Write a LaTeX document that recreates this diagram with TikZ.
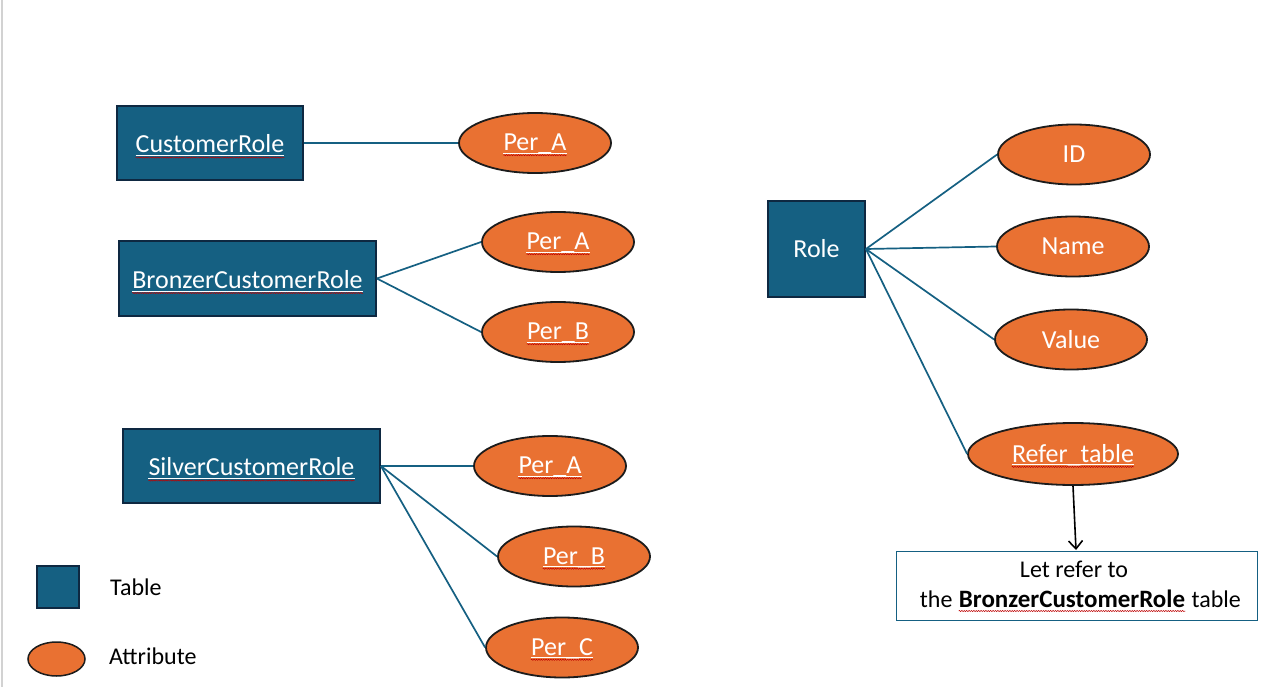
\documentclass[tikz,border=0pt]{standalone}
\usepackage{fontspec}
\setmainfont{Carlito}
\usetikzlibrary{shapes.geometric,arrows.meta,decorations.pathmorphing}
\definecolor{tblue}{HTML}{156082}
\definecolor{tborder}{HTML}{0E2841}
\definecolor{torange}{HTML}{E97132}
\definecolor{oborder}{HTML}{1C1C1C}
\tikzset{
  tbl/.style={rectangle, fill=tblue, draw=tborder, line width=1.8pt, inner sep=0pt},
  attr/.style={ellipse, fill=torange, draw=oborder, line width=1.8pt, inner sep=0pt, minimum width=152pt, minimum height=60pt},
  wtxt/.style={text=white, inner sep=0pt, font=\fontsize{26}{31}\selectfont},
  btxt/.style={text=black, inner sep=0pt, font=\fontsize{24}{29}\selectfont},
  conn/.style={draw=tblue, line width=1.7pt},
  ul/.style={draw=white, line width=0.8pt},
  sq/.style={draw=red!75!black, line width=0.5pt, decorate, decoration={snake, amplitude=0.6pt, segment length=2.4pt}},
}
\newcommand\ulsq[1]{%
  \draw[ul] ([yshift=-2.6pt]#1.base west) -- ([yshift=-2.6pt]#1.base east);
  \draw[sq] ([yshift=-4.6pt]#1.base west) -- ([yshift=-4.6pt]#1.base east);}
\newcommand\onlysq[1]{%
  \draw[sq] ([yshift=-4pt]#1.base west) -- ([yshift=-4pt]#1.base east);}
\begin{document}
\begin{tikzpicture}[x=1pt, y=-1pt]
\useasboundingbox (0,0) rectangle (1267,687);
\fill[white] (0,0) rectangle (1267,687);
\draw[gray!35, line width=2pt] (2,0) -- (2,687);

% tables
\node[tbl, minimum width=186pt, minimum height=74pt] (cr) at (210,143) {};
\node[tbl, minimum width=257pt, minimum height=75pt] (bcr) at (247.5,278.5) {};
\node[tbl, minimum width=257pt, minimum height=74pt] (scr) at (251.5,466) {};
\node[tbl, minimum width=97pt, minimum height=96pt] (role) at (816.5,249) {};

% attributes
\node[attr] (pa1) at (535,143) {};
\node[attr] (pa2) at (558,242) {};
\node[attr] (pb2) at (558,332) {};
\node[attr] (pa3) at (550,466) {};
\node[attr] (pb3) at (574,556.5) {};
\node[attr] (pc3) at (562,647.5) {};
\node[attr] (id) at (1074,154.5) {};
\node[attr] (nm) at (1073,246.5) {};
\node[attr] (val) at (1071,339.5) {};
\node[attr, minimum width=210pt, minimum height=62pt] (ref) at (1073,454) {};

% labels
\node[wtxt] (crt) at ([yshift=-1pt]cr) {CustomerRole};
\node[wtxt] (bcrt) at ([yshift=-1pt]bcr) {BronzerCustomerRole};
\node[wtxt] (scrt) at ([yshift=-1pt]scr) {SilverCustomerRole};
\node[wtxt] (rolet) at (role) {Role};
\node[wtxt] (pa1t) at ([yshift=-1pt]pa1) {Per\_A};
\node[wtxt] (pa2t) at ([yshift=-1pt]pa2) {Per\_A};
\node[wtxt] (pb2t) at ([yshift=-1pt]pb2) {Per\_B};
\node[wtxt] (pa3t) at ([yshift=-1pt]pa3) {Per\_A};
\node[wtxt] (pb3t) at ([yshift=-1pt]pb3) {Per\_B};
\node[wtxt] (pc3t) at ([yshift=-1pt]pc3) {Per\_C};
\node[wtxt] (idt) at (id) {ID};
\node[wtxt] (nmt) at (nm) {Name};
\node[wtxt] (valt) at (val) {Value};
\node[wtxt] (reft) at ([yshift=-1pt]ref) {Refer\_table};
\ulsq{crt}\ulsq{bcrt}\ulsq{scrt}
\ulsq{pa1t}\ulsq{pa2t}\ulsq{pb2t}\ulsq{pa3t}\ulsq{pb3t}\ulsq{pc3t}\ulsq{reft}

% connectors
\draw[conn] (cr.east) -- (pa1.west);
\draw[conn] (bcr.east) -- (pa2.west);
\draw[conn] (bcr.east) -- (pb2.west);
\draw[conn] (scr.east) -- (pa3.west);
\draw[conn] (scr.east) -- (pb3.west);
\draw[conn] (scr.east) -- (pc3.west);
\draw[conn] (role.east) -- (id.west);
\draw[conn] (role.east) -- (nm.west);
\draw[conn] (role.east) -- (val.west);
\draw[conn] (role.east) -- (ref.west);

% note box
\node[draw=tblue, line width=0.9pt, fill=white, minimum width=361pt, minimum height=69pt, inner sep=0pt] (note) at (1076.5,585.5) {};
\node[btxt, anchor=base] (n1) at (1074,577) {Let refer to};
\node[btxt, anchor=base, font=\fontsize{25}{29}\selectfont\bfseries] (n2b) at (1072,607) {BronzerCustomerRole};
\node[btxt, anchor=base east] (n2a) at (n2b.base west) {the\hspace*{0.25em}};
\node[btxt, anchor=base west] (n2c) at (n2b.base east) {\hspace*{0.25em}table};
\onlysq{n2b}
\coordinate (notetop) at (1076,550);
\draw[line width=1.6pt, -{Straight Barb[length=8pt,width=14pt]}] (ref.south) -- (notetop);

% legend
\node[tbl, minimum width=42pt, minimum height=42pt, line width=1.5pt] (lgt) at (58,587) {};
\node[ellipse, fill=torange, draw=oborder, line width=1.5pt, inner sep=0pt, minimum width=57pt, minimum height=34pt] (lga) at (56.5,659) {};
\node[btxt, anchor=west] (lgtt) at (110,587) {Table};
\node[btxt, anchor=west] (lgat) at (109,656) {Attribute};
\end{tikzpicture}
\end{document}
